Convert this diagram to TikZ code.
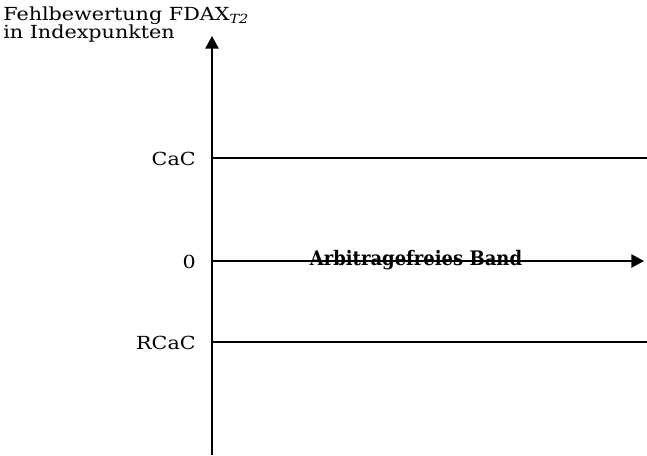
\documentclass[tikz,border=0pt]{standalone}
\usepackage{fontspec}
\setmainfont{DejaVu Serif}[FakeStretch=1.15]
\newfontfamily\bandfont{DejaVu Serif}[FakeStretch=0.9]
\usepackage{tikz}
\usetikzlibrary{positioning,arrows.meta}

\begin{document}
\begin{tikzpicture}[x=0.75pt,y=-0.75pt,font=\fontsize{13.5}{13.5}\selectfont,
    axis/.style={line width=1.3pt},
    level/.style={line width=1pt},
    tip/.style={-{Triangle[length=9.5pt,width=10pt]}},
    lbl/.style={anchor=east,inner sep=0pt,yshift=-1pt}]
        \useasboundingbox (0,0) rectangle (647,455);
        \coordinate (orig) at (212,455);
        \coordinate (top) at (212,36);
        \coordinate (zero) at (212,261);
        \coordinate (zeroend) at (644,261);
        \coordinate (cac) at (212,158);
        \coordinate (cacend) at (647,158);
        \coordinate (rcac) at (212,342);
        \coordinate (rcacend) at (647,342);
        \draw[axis,tip] (orig) -- (top);
        \draw[level] (cac) -- (cacend);
        \draw[level] (rcac) -- (rcacend);
        \draw[level,tip] (zero) -- (zeroend);
        \node[lbl] (lcac) [left = 12pt of cac] {CaC};
        \node[lbl] (lzero) [left = 12pt of zero] {0};
        \node[lbl] (lrcac) [left = 12pt of rcac] {RCaC};
        \node[inner sep=0pt] (band) at (416,260)
            {\fontsize{15}{15}\bandfont\bfseries Arbitragefreies Band};
        \node[anchor=north west,inner sep=0pt,align=left] (title) at (3,7)
            {Fehlbewertung FDAX\textsubscript{\itshape T2}\\in Indexpunkten};
    \end{tikzpicture}
\end{document}
